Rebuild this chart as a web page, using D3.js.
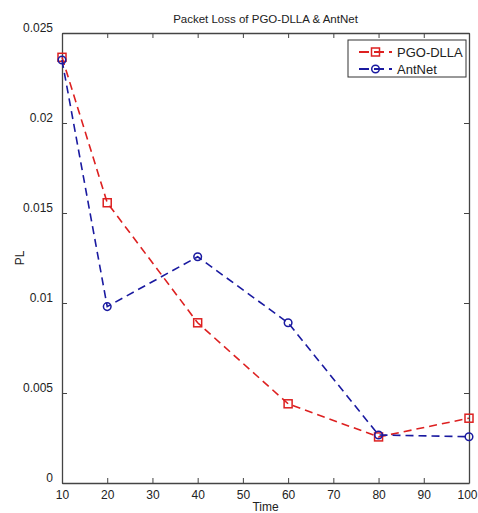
<!DOCTYPE html>
<html>
<head>
	<title>Packet Loss</title>
	<script src="https://cdn.jsdelivr.net/npm/d3@7"></script>
</head>
<style type="text/css">
	body { margin:0; background:#fff; }
	text { font-family: "Liberation Sans", Arial, sans-serif; }
</style>
<body>
</body>
</html>
<script type="text/javascript">
	var times = [10, 20, 40, 60, 80, 100];
	var pgoDlla = [0.02365, 0.01557, 0.0089, 0.0044, 0.00256, 0.0036];
	var antNet = [0.0235, 0.0098, 0.01257, 0.0089, 0.00267, 0.00257];
	var xTicks = [10, 20, 30, 40, 50, 60, 70, 80, 90, 100];
	var yTicks = [0, 0.005, 0.01, 0.015, 0.02, 0.025];

	var width = 478, height = 513;
	var margin = {left:62, right:9, top:33, bottom:30};
	var w = width - margin.left - margin.right;
	var h = height - margin.top - margin.bottom;

	var svg = d3.select("body").append("svg").attr("width", width).attr("height", height);
	var g = svg.append("g").attr("transform", "translate(" + margin.left + "," + margin.top + ")");

	var x = d3.scaleLinear().domain([10, 100]).range([0, w]);
	var y = d3.scaleLinear().domain([0, 0.025]).range([h, 0]);

	var axisColor = "#444";
	var fmt = function(d){ return d === 0 ? "0" : String(+d.toFixed(3)); };

	// axes, ticks pointing inward
	var xb = g.append("g").attr("transform", "translate(0," + h + ")")
		.call(d3.axisBottom(x).tickValues(xTicks).tickSizeInner(-5).tickSizeOuter(0).tickPadding(9));
	var xt = g.append("g").call(d3.axisTop(x).tickValues(xTicks).tickSizeInner(-5).tickSizeOuter(0).tickFormat(""));
	var yl = g.append("g").call(d3.axisLeft(y).tickValues(yTicks).tickSizeInner(-5).tickSizeOuter(0).tickPadding(9).tickFormat(fmt));
	var yr = g.append("g").attr("transform", "translate(" + w + ",0)")
		.call(d3.axisRight(y).tickValues(yTicks).tickSizeInner(-5).tickSizeOuter(0).tickFormat(""));
	[xb, xt, yl, yr].forEach(function(a){
		a.select(".domain").attr("stroke", axisColor).attr("stroke-width", 1.3);
		a.selectAll(".tick line").attr("stroke", axisColor);
		a.selectAll(".tick text").attr("fill", "#222").style("font-size", "12px").style("font-family", "'Liberation Sans', Arial, sans-serif");
	});
	yl.selectAll(".tick text").attr("dy", "-0.1em");
	xb.selectAll(".tick text").attr("dy", "0.6em");
	// keep the last label inside the window
	xb.selectAll(".tick text").filter(function(d){ return d === 100; }).attr("x", -2);

	// title and axis labels
	svg.append("text").attr("x", margin.left + w / 2).attr("y", 23).attr("text-anchor", "middle")
		.style("font-size", "11.5px").attr("fill", "#222").text("Packet Loss of PGO-DLLA & AntNet");
	svg.append("text").attr("x", margin.left + w / 2).attr("y", 511).attr("text-anchor", "middle")
		.style("font-size", "12px").attr("fill", "#222").text("Time");
	svg.append("text").attr("transform", "translate(24," + (margin.top + h / 2) + ") rotate(-90)")
		.attr("text-anchor", "middle").style("font-size", "12px").attr("fill", "#222").text("PL");

	var series = [
		{ name:"PGO-DLLA", values:pgoDlla, color:"#dd2020", marker:"square" },
		{ name:"AntNet", values:antNet, color:"#1a1aa0", marker:"circle" }
	];

	var line = d3.line().x(function(d){ return x(d[0]); }).y(function(d){ return y(d[1]); });

	series.forEach(function(s){
		var pts = times.map(function(t, i){ return [t, s.values[i]]; });
		g.append("path").datum(pts).attr("d", line).attr("fill", "none")
			.attr("stroke", s.color).attr("stroke-width", 1.6).attr("stroke-dasharray", "8,5");
		if (s.marker === "square") {
			g.selectAll(".sq").data(pts).enter().append("rect")
				.attr("x", function(d){ return x(d[0]) - 4; }).attr("y", function(d){ return y(d[1]) - 4; })
				.attr("width", 8).attr("height", 8).attr("fill", "none").attr("stroke", s.color).attr("stroke-width", 1.5);
		} else {
			g.selectAll(".ci").data(pts).enter().append("circle")
				.attr("cx", function(d){ return x(d[0]); }).attr("cy", function(d){ return y(d[1]); })
				.attr("r", 3.8).attr("fill", "none").attr("stroke", s.color).attr("stroke-width", 1.5);
		}
	});

	// legend
	var lg = svg.append("g").attr("transform", "translate(348,40)");
	lg.append("rect").attr("width", 118).attr("height", 37).attr("fill", "#fff").attr("stroke", "#333").attr("stroke-width", 1);
	series.forEach(function(s, i){
		var ly = 12 + i * 17;
		lg.append("line").attr("x1", 11).attr("x2", 44).attr("y1", ly).attr("y2", ly)
			.attr("stroke", s.color).attr("stroke-width", 1.8).attr("stroke-dasharray", "10,5");
		if (s.marker === "square") {
			lg.append("rect").attr("x", 23.5).attr("y", ly - 4).attr("width", 8).attr("height", 8)
				.attr("fill", "none").attr("stroke", s.color).attr("stroke-width", 1.5);
		} else {
			lg.append("circle").attr("cx", 27.5).attr("cy", ly).attr("r", 3.8)
				.attr("fill", "none").attr("stroke", s.color).attr("stroke-width", 1.5);
		}
		lg.append("text").attr("x", 49).attr("y", ly + 4.5).style("font-size", "13px").attr("fill", "#222").text(s.name);
	});
</script>
